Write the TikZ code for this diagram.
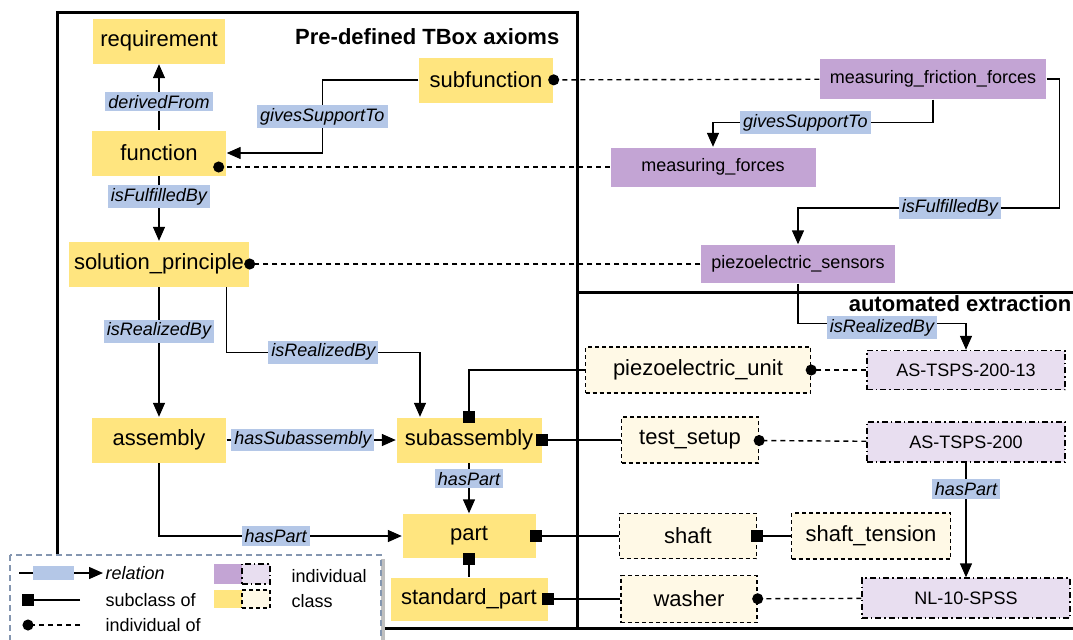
\documentclass[tikz,border=0pt]{standalone}
\usepackage{fontspec}
\setmainfont{Liberation Sans}
\usepackage{tikz}
\usetikzlibrary{arrows.meta}
\definecolor{classyellow}{RGB}{255,229,127}
\definecolor{classpale}{RGB}{255,249,230}
\definecolor{indivpurple}{RGB}{195,164,212}
\definecolor{indivpale}{RGB}{232,222,240}
\definecolor{relblue}{RGB}{180,199,231}
\definecolor{legendgrey}{RGB}{132,150,176}
\tikzset{
  cls/.style={fill=classyellow, font=\fontsize{11}{13}\selectfont, minimum height=22.5pt, inner xsep=2pt},
  xcls/.style={draw, dash pattern=on 2pt off 1.5pt, fill=classpale, font=\fontsize{11}{13}\selectfont, minimum height=23pt, inner xsep=2pt},
  ind/.style={fill=indivpurple, font=\fontsize{9}{11}\selectfont, minimum height=19.5pt, inner xsep=2pt},
  xind/.style={draw, dash pattern=on 3pt off 1.5pt on 0.7pt off 1.5pt, fill=indivpale, font=\fontsize{9}{11}\selectfont, minimum height=19.5pt, inner xsep=2pt},
  lbl/.style={fill=relblue, font=\fontsize{9}{10}\selectfont\itshape, inner sep=1.5pt},
  rel/.style={-{Triangle[length=7pt,width=6pt]}},
  sub/.style={-{Square[length=6pt,width=6pt]}, shorten >=-3pt},
  inst/.style={dash pattern=on 2.5pt off 2pt, -{Circle[length=5.5pt]}, shorten >=-2.75pt},
  frame/.style={line width=1.5pt},
  title/.style={font=\fontsize{11}{13}\selectfont\bfseries, inner sep=0pt},
  legtext/.style={font=\fontsize{9}{11}\selectfont, inner sep=0pt},
}

\begin{document}
\begin{tikzpicture}[x=0.5pt, y=-0.5pt, line width=0.7pt]
\useasboundingbox (0,0) rectangle (1073,639);

\draw[frame] (57,628) -- (57,12) -- (577,12) -- (577,628);
\draw[frame] (577,292) -- (1073,292);
\draw[frame] (57,628) -- (1073,628);
\node[title, anchor=east] (tboxtitle) at (560,37) {Pre-defined TBox axioms};
\node[title, anchor=east] (extrtitle) at (1072,304) {automated extraction};

\node[cls, minimum width=66pt] (req) at (159,41) {requirement};
\node[cls, minimum width=67pt] (func) at (159,153) {function};
\node[cls, minimum width=67pt] (subfunc) at (486,80) {subfunction};
\node[cls, minimum width=90pt] (solprin) at (159,264) {solution\_principle};
\node[cls, minimum width=67pt] (assy) at (159,440) {assembly};
\node[cls, minimum width=72.5pt] (subassy) at (469,440) {subassembly};
\node[cls, minimum width=66.5pt, minimum height=22pt] (part) at (469,536) {part};
\node[cls, minimum width=78.5pt, minimum height=21.5pt] (stdpart) at (469,599) {standard\_part};

\node[ind, minimum width=113pt, minimum height=20pt] (mff) at (933,79) {measuring\_friction\_forces};
\node[ind, minimum width=102.5pt] (mf) at (713,167) {measuring\_forces};
\node[ind, minimum width=97pt, minimum height=19pt] (psens) at (798,264) {piezoelectric\_sensors};

\node[xind, minimum width=99pt] (astsps13) at (966,370) {AS-TSPS-200-13};
\node[xind, minimum width=99pt, minimum height=20pt] (astsps) at (966,442) {AS-TSPS-200};
\node[xind, minimum width=104pt, minimum height=20pt] (nlspss) at (966,598) {NL-10-SPSS};

\node[xcls, minimum width=112.5pt] (pzunit) at (698,370) {piezoelectric\_unit};
\node[xcls, minimum width=68.5pt] (testsetup) at (690,440) {test\_setup};
\node[xcls, minimum width=68.5pt, minimum height=22.5pt] (shaft) at (688,536) {shaft};
\node[xcls, minimum width=79.5pt] (shafttens) at (871,536) {shaft\_tension};
\node[xcls, minimum width=68pt, minimum height=23.5pt] (washer) at (689,599) {washer};

\draw[rel] (func) -- node[lbl, pos=0.43] {derivedFrom} (req);
\draw[rel] (subfunc.west) -- ++(-96,0) |- node[lbl, pos=0.25] {givesSupportTo} (func.east);
\draw[rel] (func) -- node[lbl, pos=0.32] {isFulfilledBy} (solprin);
\draw[rel] (solprin) -- node[lbl, pos=0.34] {isRealizedBy} (assy);
\draw[rel] ([shift={(-23,0)}]solprin.south east) -- ++(0,65) -| node[lbl, pos=0.25] {isRealizedBy} ([shift={(-49,0)}]subassy.north);
\draw[rel] (assy) -- node[lbl, pos=0.45] {hasSubassembly} (subassy);
\draw[rel] (subassy) -- node[lbl, pos=0.31] {hasPart} (part);
\draw[rel] (assy.south) |- node[lbl, pos=0.74] {hasPart} (part.west);

\draw[rel] (mff.south) -- ++(0,23) -| node[lbl, pos=0.29] {givesSupportTo} (mf.north);
\draw[rel] (mff.east) -- ++(13,0) -- ++(0,129) -| node[lbl, pos=0.21] {isFulfilledBy} (psens.north);
\draw[rel] (psens.south) -- ++(0,40) -| node[lbl, pos=0.25, yshift=-2pt] {isRealizedBy} (astsps13.north);
\draw[rel] (astsps) -- node[lbl, pos=0.23] {hasPart} (nlspss);

\draw[sub] (stdpart) -- (part);
\draw[sub] (testsetup) -- (subassy);
\draw[sub] (pzunit.west) -| (subassy.north);
\draw[sub] (shaft) -- (part);
\draw[sub] (washer) -- (stdpart);
\draw[sub] (shafttens) -- (shaft);

\draw[inst] (mff) -- (subfunc);
\draw[inst] (mf.west) -- ([shift={(-8,14)}]func.east);
\draw[inst] (psens) -- (solprin);
\draw[inst] (astsps13) -- (pzunit);
\draw[inst] (astsps) -- (testsetup);
\draw[inst] (nlspss) -- (washer);

\fill[black!25] (14,559) rectangle (385,650);
\draw[legendgrey, dash pattern=on 3pt off 2pt, fill=white, line width=0.8pt] (10,555) rectangle (381,650);
\coordinate (lgrelA) at (19,573);
\coordinate (lgrelB) at (103,573);
\draw[rel] (lgrelA) -- node[fill=relblue, minimum width=20.5pt, minimum height=7pt, inner sep=0pt, pos=0.41] (lgrelbox) {} (lgrelB);
\node[legtext, anchor=west] (lgrel) at (105,573) {\itshape relation};
\coordinate (lgsubA) at (80,600);
\coordinate (lgsubB) at (28,600);
\draw[sub] (lgsubA) -- (lgsubB);
\node[legtext, anchor=west] (lgsub) at (105,600) {subclass of};
\coordinate (lginstA) at (80,625);
\coordinate (lginstB) at (28,625);
\draw[inst] (lginstA) -- (lginstB);
\node[legtext, anchor=west] (lginst) at (105,625) {individual of};
\node[fill=indivpurple, minimum width=14pt, minimum height=10pt, inner sep=0pt] (lgind) at (228,574) {};
\node[xind, minimum width=14pt, minimum height=10pt, inner sep=0pt] (lgxind) at (256,574) {};
\node[fill=classyellow, minimum width=14pt, minimum height=9pt, inner sep=0pt] (lgcls) at (228,599) {};
\node[xcls, minimum width=14pt, minimum height=9pt, inner sep=0pt] (lgxcls) at (256,599) {};
\node[legtext, anchor=west] (lgindtext) at (291,576) {individual};
\node[legtext, anchor=west] (lgclstext) at (291,601) {class};
\end{tikzpicture}
\end{document}
